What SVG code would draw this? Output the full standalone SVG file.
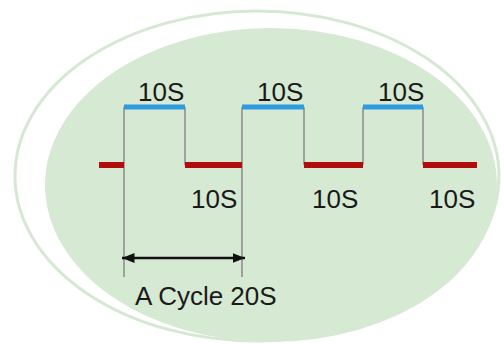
<svg xmlns="http://www.w3.org/2000/svg" width="504" height="344" viewBox="0 0 504 344">
<style>
.lbl{font-family:"Liberation Sans",Arial,sans-serif;font-size:26px;fill:#1a1a1a}
.hi{stroke:#2e9be0;stroke-width:5;fill:none}
.lo{stroke:#b00d0d;stroke-width:6;fill:none}
.edge{stroke:#8a8a8a;stroke-width:1.5;fill:none}
</style>
<defs>
<marker id="ah" viewBox="0 0 10 10" refX="10" refY="5" markerWidth="5" markerHeight="5" orient="auto-start-reverse">
<path d="M0,1 L10,5 L0,9 Z" fill="#111"/>
</marker>
</defs>
<rect width="504" height="344" fill="#ffffff"/>
<g id="background">
<ellipse cx="257" cy="176" rx="242" ry="165" fill="none" stroke="#d6e8d3" stroke-width="3"/>
<ellipse cx="271" cy="185" rx="226" ry="157" fill="#d6e9d3"/>
</g>
<g id="connectors">
<path class="edge" d="M124,107 V277 M242,107 V277 M185,107 V165 M304,107 V165 M363,107 V165 M423,107 V165"/>
<path class="lo" d="M99,165 H124 M185,165 H242 M304,165 H363 M423,165 H477"/>
<path class="hi" d="M124,107 H185 M242,107 H304 M363,107 H423"/>
<line x1="122" y1="258" x2="245" y2="258" stroke="#111" stroke-width="2.5" marker-start="url(#ah)" marker-end="url(#ah)"/>
</g>
<g id="labels">
<text class="lbl" x="138" y="101">10S</text>
<text class="lbl" x="257" y="101">10S</text>
<text class="lbl" x="378" y="101">10S</text>
<text class="lbl" x="191" y="208">10S</text>
<text class="lbl" x="312" y="208">10S</text>
<text class="lbl" x="429" y="208">10S</text>
<text class="lbl" x="135" y="305">A Cycle 20S</text>
</g>
</svg>
